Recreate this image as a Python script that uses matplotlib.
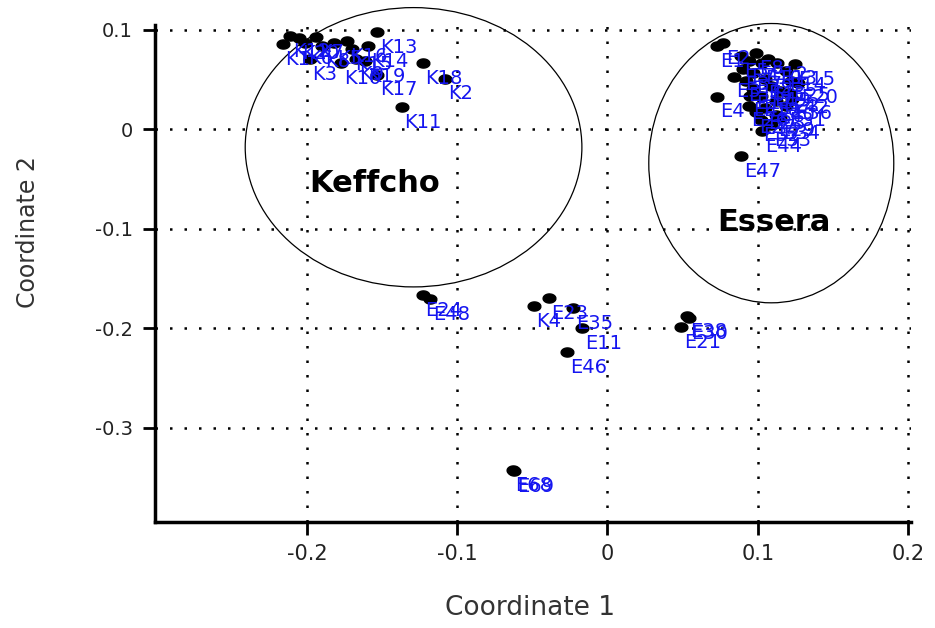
import matplotlib
matplotlib.use("Agg")
import matplotlib.pyplot as plt
import numpy as np
from matplotlib.patches import Ellipse

# Principal coordinates (PCoA) of the samples
K_LABELS = ["K1", "K12", "K20", "K6", "K7", "K8", "K5", "K16", "K15", "K3",
            "K10", "K9", "K19", "K14", "K13", "K17", "K18", "K2", "K11"]
K_X = [-0.216, -0.211, -0.205, -0.201, -0.194, -0.190, -0.182, -0.173, -0.170, -0.198,
       -0.177, -0.167, -0.161, -0.159, -0.153, -0.153, -0.123, -0.108, -0.137]
K_Y = [0.086, 0.094, 0.092, 0.087, 0.093, 0.084, 0.087, 0.089, 0.081, 0.071,
       0.067, 0.071, 0.069, 0.084, 0.098, 0.055, 0.067, 0.051, 0.022]

E_LABELS = ["E1", "E2", "E3", "E4", "E47", "E44", "E5", "E7", "E8", "E10",
            "E12", "E13", "E14", "E15", "E16", "E17", "E18", "E19", "E20", "E22",
            "E25", "E26", "E27", "E28", "E29", "E31", "E32", "E33", "E34", "E36",
            "E37", "E39", "E40", "E42", "E43", "E45"]
E_X = [0.073, 0.077, 0.084, 0.073, 0.089, 0.103, 0.089, 0.094, 0.099, 0.103,
       0.107, 0.113, 0.119, 0.125, 0.092, 0.097, 0.102, 0.109, 0.127, 0.115,
       0.122, 0.094, 0.099, 0.105, 0.112, 0.119, 0.102, 0.109, 0.115, 0.123,
       0.090, 0.097, 0.112, 0.121, 0.105, 0.095]
E_Y = [0.084, 0.087, 0.053, 0.033, -0.027, -0.002, 0.074, 0.069, 0.077, 0.067,
       0.071, 0.067, 0.059, 0.066, 0.049, 0.041, 0.034, 0.044, 0.047, 0.039,
       0.049, 0.024, 0.017, 0.021, 0.014, 0.024, 0.009, 0.004, 0.011, 0.031,
       0.061, 0.057, 0.029, 0.037, 0.051, 0.034]

# samples that fall outside both groups
O_LABELS = ["E24", "E48", "K4", "E23", "E35", "E11", "E46",
            "E38", "E30", "E21", "E68", "E69"]
O_X = [-0.123, -0.118, -0.049, -0.039, -0.023, -0.017, -0.027,
       0.053, 0.054, 0.049, -0.063, -0.062]
O_Y = [-0.167, -0.171, -0.178, -0.170, -0.180, -0.200, -0.224,
       -0.188, -0.190, -0.199, -0.343, -0.344]

GROUPS = ["Keffcho", "Essera"]
GROUP_XY = [(-0.155, -0.054), (0.111, -0.094)]
GROUP_ELLIPSE = [(-0.129, -0.018, 0.224, 0.281), (0.109, -0.034, 0.163, 0.281)]

X_TICKS = [-0.2, -0.1, 0, 0.1, 0.2]
X_TICKLABELS = ["-0.2", "-0.1", "0", "0.1", "0.2"]
Y_TICKS = [0.1, 0, -0.1, -0.2, -0.3]
Y_TICKLABELS = ["0.1", "0", "-0.1", "-0.2", "-0.3"]

labels = K_LABELS + E_LABELS + O_LABELS
xs = K_X + E_X + O_X
ys = K_Y + E_Y + O_Y

fig = plt.figure(figsize=(9.35, 6.28), dpi=100)
ax = fig.add_axes([0.1658, 0.1688, 0.8086, 0.7914])

# flattened blob marker like the original
t = np.linspace(0, 2 * np.pi, 30)
blob = np.column_stack([1.4 * np.cos(t), np.sin(t)])
ax.scatter(xs, ys, s=85, marker=blob, color="black", zorder=3)

for lab, x, y in zip(labels, xs, ys):
    ax.annotate(lab, (x, y), xytext=(2, -11), textcoords="offset points",
                ha="left", va="center", fontsize=14, color="#1515f0", zorder=4)

for (cx, cy, w, h), name, (tx, ty) in zip(GROUP_ELLIPSE, GROUPS, GROUP_XY):
    ax.add_patch(Ellipse((cx, cy), w, h, fill=False, edgecolor="black",
                         linewidth=0.9, clip_on=False, zorder=2))
    ax.text(tx, ty, name, ha="center", va="center", fontsize=22,
            fontweight="bold", color="black", zorder=5)

ax.set_xlim(-0.301, 0.202)
ax.set_ylim(-0.395, 0.105)
ax.set_xticks(X_TICKS)
ax.set_xticklabels(X_TICKLABELS)
ax.set_yticks(Y_TICKS)
ax.set_yticklabels(Y_TICKLABELS)

ax.grid(True, color="black", linestyle=(0, (1, 4.8)), linewidth=1.8)
ax.set_axisbelow(True)

for side in ["top", "right"]:
    ax.spines[side].set_visible(False)
for side in ["left", "bottom"]:
    ax.spines[side].set_linewidth(2.5)
ax.tick_params(axis="both", direction="out", length=9, width=2,
               labelsize=14, pad=7, colors="black", labelcolor="#222222")
ax.tick_params(axis="x", labelsize=15)

ax.set_xlabel("Coordinate 1", fontsize=19, color="#333333", va="center")
ax.xaxis.set_label_coords(0.496, -0.173)
ax.set_ylabel("Coordinate 2", fontsize=17, color="#333333", va="center")
ax.yaxis.set_label_coords(-0.168, 0.584)

fig.savefig("out.png", dpi=100)
